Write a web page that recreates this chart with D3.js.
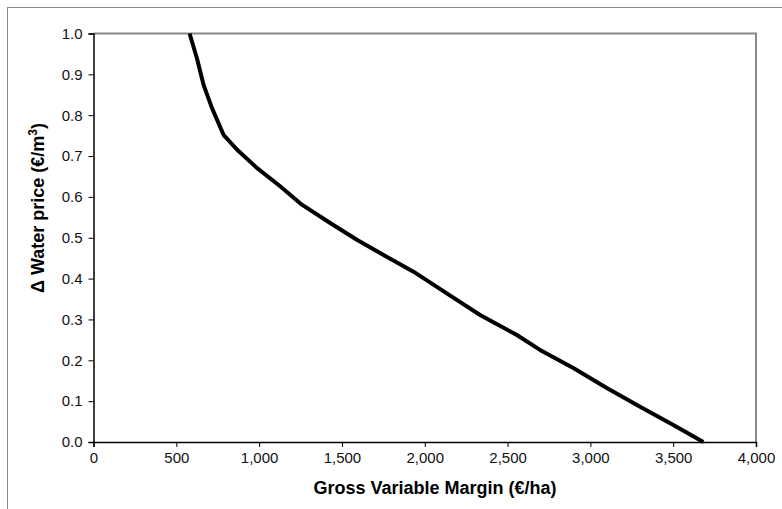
<!DOCTYPE html>
<html>
<head>
<meta charset="utf-8">
<script src="https://cdn.jsdelivr.net/npm/d3@7"></script>
<style>
  html, body { margin: 0; padding: 0; background: #fff; }
  svg { display: block; }
</style>
</head>
<body>
<svg id="chart" width="782" height="509"></svg>
<script>
// Data
const waterPrice = [1.0, 0.94, 0.875, 0.818, 0.752, 0.716, 0.671, 0.626, 0.581, 0.536, 0.495, 0.4625, 0.417, 0.364, 0.311, 0.262, 0.2255, 0.181, 0.132, 0.0865, 0.0417, 0.0];
const grossMargin = [580, 624, 664, 715, 785, 866, 986, 1127, 1258, 1429, 1590, 1730, 1932, 2133, 2334, 2556, 2696, 2897, 3099, 3300, 3501, 3682];
const xTicks = [0, 500, 1000, 1500, 2000, 2500, 3000, 3500, 4000];
const yTicks = [0.0, 0.1, 0.2, 0.3, 0.4, 0.5, 0.6, 0.7, 0.8, 0.9, 1.0];
const xTitle = "Gross Variable Margin (€/ha)";

const svg = d3.select("#chart");
const font = "'Liberation Sans', Arial, sans-serif";

const plot = { left: 93.5, right: 756, top: 33.5, bottom: 442 };
const x = d3.scaleLinear().domain([0, 4000]).range([plot.left, plot.right]);
const y = d3.scaleLinear().domain([0, 1]).range([plot.bottom, plot.top]);

// outer frame (cropped)
svg.append("rect")
  .attr("x", 7.5).attr("y", 7.5).attr("width", 800).attr("height", 520)
  .attr("fill", "none").attr("stroke", "#8a8a8a").attr("stroke-width", 1);

// plot area border (top & right grey)
svg.append("path")
  .attr("d", `M${plot.left},${plot.top}H${plot.right}V${plot.bottom}`)
  .attr("fill", "none").attr("stroke", "#888").attr("stroke-width", 2);

// axes
const xAxis = d3.axisBottom(x).tickValues(xTicks).tickFormat(d3.format(",")).tickSizeOuter(0).tickSize(5).tickPadding(5);
const yAxis = d3.axisLeft(y).tickValues(yTicks).tickFormat(d3.format(".1f")).tickSizeOuter(0).tickSize(5).tickPadding(6);

const gx = svg.append("g").attr("transform", `translate(0,${plot.bottom})`).call(xAxis);
const gy = svg.append("g").attr("transform", `translate(${plot.left},0)`).call(yAxis);

[gx, gy].forEach(g => {
  g.select(".domain").attr("stroke", "#000").attr("stroke-width", 1.5);
  g.selectAll(".tick line").attr("stroke", "#000").attr("stroke-width", 1);
  g.selectAll(".tick text").attr("fill", "#111").style("font-family", font).style("font-size", "15px");
});

// curve
const pts = grossMargin.map((m, i) => [m, waterPrice[i]]);
svg.append("path")
  .datum(pts)
  .attr("fill", "none")
  .attr("stroke", "#000")
  .attr("stroke-width", 4)
  .attr("stroke-linejoin", "round")
  .attr("d", d3.line().x(d => x(d[0])).y(d => y(d[1])));

// axis titles
svg.append("text")
  .attr("x", 435).attr("y", 494)
  .attr("text-anchor", "middle")
  .style("font-family", font).style("font-size", "18px").style("font-weight", "bold")
  .text(xTitle);

const yt = svg.append("text")
  .attr("transform", "translate(44,208) rotate(-90)")
  .attr("text-anchor", "middle")
  .style("font-family", font).style("font-size", "18px").style("font-weight", "bold");
yt.append("tspan").text("Δ Water price (€/m");
yt.append("tspan").attr("baseline-shift", "super").style("font-size", "12px").text("3");
yt.append("tspan").text(")");
</script>
</body>
</html>
